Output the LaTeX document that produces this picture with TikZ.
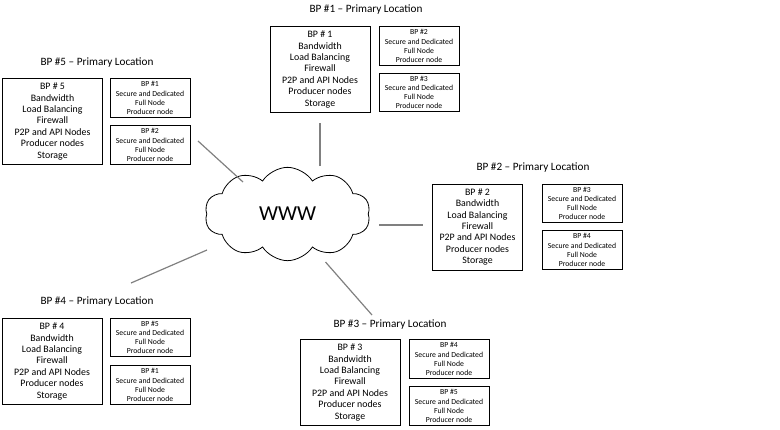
\documentclass[tikz,border=0pt]{standalone}
\usepackage{fontspec}
\setmainfont{Carlito}
\usetikzlibrary{shapes.symbols}
\newcommand{\hostlist}[1]{BP \# #1\\Bandwidth\\Load Balancing\\Firewall\\P2P and API Nodes\\Producer nodes\\Storage}
\newcommand{\peerlist}[1]{BP \##1\\Secure and Dedicated\\Full Node\\Producer node}

\begin{document}
\begin{tikzpicture}[x=0.75pt,y=-0.75pt,
	mainbox/.style={draw,rectangle,line width=0.6pt,inner sep=0pt,minimum width=75pt,
	minimum height=64.5pt,align=center,font=\fontsize{7.4}{8.6}\selectfont},
	peerbox/.style={draw,rectangle,line width=0.6pt,inner sep=0pt,minimum width=60pt,
	minimum height=29pt,align=center,font=\fontsize{5.8}{6.8}\selectfont},
	title/.style={inner sep=0pt,font=\fontsize{8.4}{9.5}\selectfont},
	link/.style={draw=black!50,line width=0.9pt}]
\useasboundingbox (0,0) rectangle (780,429);
\node[cloud,draw,line width=0.6pt,cloud puffs=10,cloud puff arc=115,aspect=1.8,
	inner sep=0pt,minimum width=124pt,minimum height=70pt,font=\fontsize{16}{18}\selectfont]
	(www) at (287.5,214) {WWW};
% BP 1
\node[title] (t1) at (366,10) {BP \#1 -- Primary Location};
\node[mainbox] (bp1) at (320,69.5) {\hostlist{1}};
\node[peerbox] (bp1a) at (419,46) {\peerlist{2}};
\node[peerbox] (bp1b) at (419,92.5) {\peerlist{3}};
% BP 2
\node[title] (t2) at (533,168) {BP \#2 -- Primary Location};
\node[mainbox,minimum width=67pt] (bp2) at (477.5,227) {\hostlist{2}};
\node[peerbox] (bp2a) at (582,203.5) {\peerlist{3}};
\node[peerbox] (bp2b) at (582,250) {\peerlist{4}};
% BP 3
\node[title] (t3) at (390,325) {BP \#3 -- Primary Location};
\node[mainbox] (bp3) at (350,382.5) {\hostlist{3}};
\node[peerbox] (bp3a) at (449,359) {\peerlist{4}};
\node[peerbox] (bp3b) at (449,406) {\peerlist{5}};
% BP 4
\node[title] (t4) at (97,302) {BP \#4 -- Primary Location};
\node[mainbox] (bp4) at (52,361.5) {\hostlist{4}};
\node[peerbox] (bp4a) at (150,337.5) {\peerlist{5}};
\node[peerbox] (bp4b) at (150,385) {\peerlist{1}};
% BP 5
\node[title] (t5) at (97,63) {BP \#5 -- Primary Location};
\node[mainbox] (bp5) at (52.5,121.5) {\hostlist{5}};
\node[peerbox] (bp5a) at (150,98) {\peerlist{1}};
\node[peerbox] (bp5b) at (150,145) {\peerlist{2}};
% links
\coordinate (w1) at (320,166);
\coordinate (e1) at (320,123);
\coordinate (w2) at (379,225);
\coordinate (e2) at (423,225);
\coordinate (w3) at (325.5,262);
\coordinate (e3) at (372,315);
\coordinate (w4) at (207,250);
\coordinate (e4) at (131,283);
\coordinate (w5) at (243,182);
\coordinate (e5) at (198,141);
\draw[link] (w1) -- (e1);
\draw[link] (w2) -- (e2);
\draw[link] (w3) -- (e3);
\draw[link] (w4) -- (e4);
\draw[link] (w5) -- (e5);
\end{tikzpicture}
\end{document}
